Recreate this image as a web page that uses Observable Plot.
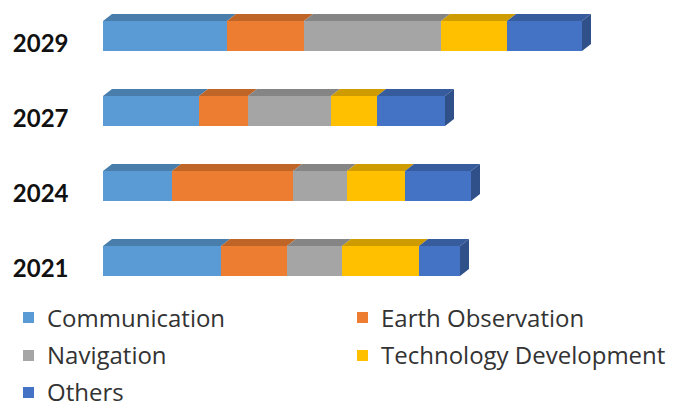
<!DOCTYPE html>
<html>
<head>
<meta charset="utf-8">
<script src="https://cdn.jsdelivr.net/npm/d3@7"></script>
<script src="https://cdn.jsdelivr.net/npm/@observablehq/plot@0.6"></script>
<style>
  html, body { margin: 0; padding: 0; background: #fff; }
  #chart { width: 687px; height: 404px; overflow: hidden; }
  #chart svg { display: block; }
  div.lg-swatches {
    font-family: "Open Sans", sans-serif !important;
    font-size: 24px !important;
    line-height: 24px;
    color: #333 !important;
    margin: 0 !important;
    padding: 3px 0 0 23px;
    width: 700px;
    box-sizing: border-box;
    display: flex;
    flex-wrap: wrap;
  }
  div.lg-swatches .lg-swatch {
    width: 334px;
    height: 37.5px;
    margin: 0 !important;
    align-items: center;
    white-space: nowrap;
  }
  div.lg-swatches .lg-swatch:last-child {
    height: 24px;
    margin-top: 6px !important;
  }
  div.lg-swatches .lg-swatch > svg { margin-right: 13px !important; }
</style>
</head>
<body>
<div id="chart"></div>
<script>
// Years (top to bottom) and the stacked segments of each bar
const years = ["2029", "2027", "2024", "2021"];
const segments = ["Communication", "Earth Observation", "Navigation", "Technology Development", "Others"];
const colors = ["#5B9BD5", "#ED7D31", "#A5A5A5", "#FFC000", "#4472C4"];

// Segment values per year, in the order of `years`
const communication = [124, 96, 69, 118];
const earthObservation = [77, 49, 121, 66];
const navigation = [137, 83, 54, 55];
const technologyDevelopment = [66, 46, 58, 77];
const others = [75, 68, 66, 41];

const series = [communication, earthObservation, navigation, technologyDevelopment, others];
const data = years.flatMap((year, i) =>
  segments.map((segment, j) => ({year, segment, value: series[j][i]}))
);
const totals = years.map((year, i) => ({year, total: d3.sum(series, s => s[i])}));

// depth of the extruded faces, in pixels
const depthX = 9, depthY = 7;

const chart = Plot.plot({
  width: 687,
  height: 296,
  marginTop: 12,
  marginBottom: 12,
  marginLeft: 103,
  marginRight: 0,
  style: {fontFamily: "Lato, sans-serif", color: "#111", background: "#fff"},
  x: {domain: [0, 584], axis: null},
  y: {domain: years, paddingInner: 0.605, paddingOuter: 0.092, label: null},
  color: {domain: segments, range: colors},
  marks: [
    // top faces (turned into parallelograms below)
    Plot.barX(data, Plot.stackX({x: "value", y: "year", fill: "segment", className: "top-face"})),
    // right side of each bar
    Plot.rect(totals, {x1: "total", x2: "total", y: "year", fill: colors[4], className: "side-face"}),
    // front faces
    Plot.barX(data, Plot.stackX({x: "value", y: "year", fill: "segment", className: "front-face"})),
    Plot.axisY({tickSize: 0, tickPadding: 35, fontSize: 24, fontWeight: "bold", dy: 8})
  ]
});

// fill of a rect, set either on the rect itself or on its group
function fillOf(node) {
  return node.getAttribute("fill") || node.parentNode.getAttribute("fill");
}

// Extrude: rebuild the top and side rects as slanted faces
const svg = d3.select(chart);
svg.selectAll("g.top-face rect").each(function () {
  const r = d3.select(this);
  const x = +r.attr("x"), y = +r.attr("y"), w = +r.attr("width");
  const fill = d3.color(fillOf(this)).darker(0.6).formatHex();
  d3.select(this.parentNode).append("path")
    .attr("d", `M${x},${y}L${x + w},${y}L${x + w + depthX},${y - depthY}L${x + depthX},${y - depthY}Z`)
    .attr("fill", fill);
  r.remove();
});
svg.selectAll("g.side-face rect").each(function () {
  const r = d3.select(this);
  const x = +r.attr("x"), y = +r.attr("y"), h = +r.attr("height");
  const fill = d3.color(fillOf(this)).darker(1).formatHex();
  d3.select(this.parentNode).append("path")
    .attr("d", `M${x},${y}L${x + depthX},${y - depthY}L${x + depthX},${y + h - depthY}L${x},${y + h}Z`)
    .attr("fill", fill);
  r.remove();
});

const legend = Plot.legend({
  color: {type: "ordinal", domain: segments, range: colors},
  swatchSize: 11,
  className: "lg"
});

const root = document.getElementById("chart");
root.append(chart);
root.append(legend);
</script>
</body>
</html>
